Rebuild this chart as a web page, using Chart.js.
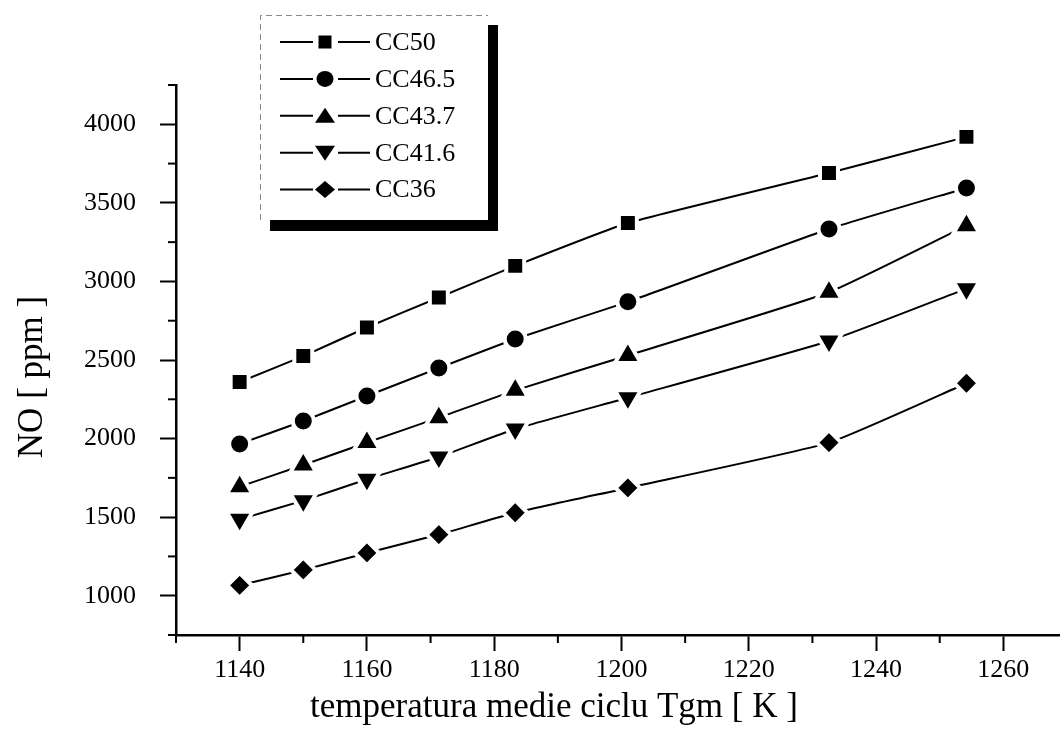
<!DOCTYPE html>
<html>
<head>
<meta charset="utf-8">
<script src="https://cdn.jsdelivr.net/npm/chart.js@4/dist/chart.umd.min.js"></script>
<style>
    html, body { margin: 0; padding: 0; background: #fff; overflow: hidden; }
    canvas { display: block; }
</style>
</head>
<body>
<canvas id="noChart" width="1086" height="744"></canvas>
<script>
// temperatura medie ciclu Tgm [K]
var temps = [1140, 1150, 1160, 1171.3, 1183.3, 1201, 1232.6, 1254.2];

// NO [ppm]
var cc50 = [2360, 2525, 2707, 2898, 3099, 3372, 3690, 3920];
var cc465 = [1966, 2112, 2271, 2449, 2634, 2870, 3334, 3595];
var cc437 = [1694, 1832, 1975, 2133, 2307, 2529, 2931, 3355];
var cc416 = [1486, 1605, 1741, 1883, 2061, 2260, 2621, 2954];
var cc36 = [1066, 1164, 1272, 1389, 1528, 1686, 1974, 2352];

var seriesNames = ["CC50", "CC46.5", "CC43.7", "CC41.6", "CC36"];
var xLabelTicks = [1140, 1160, 1180, 1200, 1220, 1240, 1260];
var yLabelTicks = [1000, 1500, 2000, 2500, 3000, 3500, 4000];

var serif = "'Liberation Serif', 'Times New Roman', serif";

function toPoints(values) {
    return values.map(function (v, i) {
        return {x: temps[i], y: v};
    });
}

function makeSet(label, values, style, radius, rotation) {
    return {
        label: label,
        data: toPoints(values),
        borderColor: "#000",
        backgroundColor: "#000",
        borderWidth: 2,
        tension: 0.15,
        fill: false,
        pointStyle: style,
        pointRotation: rotation || 0,
        pointRadius: radius,
        pointHoverRadius: radius,
        pointBackgroundColor: "#000",
        pointBorderColor: "#fff",
        pointBorderWidth: 4,
        pointHoverBorderWidth: 4
    };
}

// small black marker used by the legend box
function drawMarker(ctx, style, x, y) {
    ctx.beginPath();
    if (style === "rect") {
        ctx.rect(x - 6.5, y - 6.5, 13, 13);
    } else if (style === "circle") {
        ctx.ellipse(x, y, 8.5, 8, 0, 0, Math.PI * 2);
    } else if (style === "triangle") {
        ctx.moveTo(x, y - 8);
        ctx.lineTo(x + 10, y + 7);
        ctx.lineTo(x - 10, y + 7);
    } else if (style === "triangleDown") {
        ctx.moveTo(x, y + 8);
        ctx.lineTo(x + 10, y - 7);
        ctx.lineTo(x - 10, y - 7);
    } else {
        ctx.moveTo(x - 10, y);
        ctx.lineTo(x, y - 8.5);
        ctx.lineTo(x + 10, y);
        ctx.lineTo(x, y + 8.5);
    }
    ctx.closePath();
    ctx.fill();
}

var legendStyles = ["rect", "circle", "triangle", "triangleDown", "diamond"];

var decorPlugin = {
    id: "decor",
    afterDraw: function (chart) {
        var ctx = chart.ctx;
        var xs = chart.scales.x;
        var ys = chart.scales.y;
        ctx.save();

        // minor ticks
        ctx.strokeStyle = "#000";
        ctx.lineWidth = 2;
        ys.ticks.forEach(function (t) {
            if (yLabelTicks.indexOf(t.value) !== -1) return;
            var py = ys.getPixelForValue(t.value);
            ctx.beginPath();
            ctx.moveTo(xs.left, py);
            ctx.lineTo(xs.left - 8, py);
            ctx.stroke();
        });
        xs.ticks.forEach(function (t) {
            if (xLabelTicks.indexOf(t.value) !== -1) return;
            var px = xs.getPixelForValue(t.value);
            ctx.beginPath();
            ctx.moveTo(px, ys.bottom);
            ctx.lineTo(px, ys.bottom + 8);
            ctx.stroke();
        });

        // axis titles
        ctx.fillStyle = "#000";
        ctx.font = "35px " + serif;
        ctx.textAlign = "center";
        ctx.textBaseline = "alphabetic";
        ctx.fillText("temperatura medie ciclu Tgm [ K ]", 554, 717);
        ctx.save();
        ctx.translate(42, 377);
        ctx.rotate(-Math.PI / 2);
        ctx.fillText("NO [ ppm ]", 0, 0);
        ctx.restore();

        // legend box with drop shadow
        ctx.fillStyle = "#000";
        ctx.fillRect(270, 25, 228, 206);
        ctx.fillStyle = "#fff";
        ctx.fillRect(260, 15, 228, 205);
        ctx.strokeStyle = "#888";
        ctx.lineWidth = 1;
        ctx.setLineDash([6, 4]);
        ctx.beginPath();
        ctx.moveTo(260.5, 220);
        ctx.lineTo(260.5, 15.5);
        ctx.lineTo(488, 15.5);
        ctx.stroke();
        ctx.setLineDash([]);

        ctx.font = "26px " + serif;
        ctx.textAlign = "left";
        ctx.textBaseline = "middle";
        seriesNames.forEach(function (name, i) {
            var y = 42 + i * 36.9;
            ctx.strokeStyle = "#000";
            ctx.lineWidth = 2;
            ctx.beginPath();
            ctx.moveTo(280, y);
            ctx.lineTo(313, y);
            ctx.moveTo(338, y);
            ctx.lineTo(370, y);
            ctx.stroke();
            ctx.fillStyle = "#000";
            drawMarker(ctx, legendStyles[i], 325, y);
            ctx.fillText(name, 375, y + 1);
        });
        ctx.restore();
    }
};

var ctx = document.getElementById("noChart");

new Chart(ctx, {
    type: "line",
    data: {
        datasets: [
            makeSet(seriesNames[0], cc50, "rect", 12.7),
            makeSet(seriesNames[1], cc465, "circle", 10.5),
            makeSet(seriesNames[2], cc437, "triangle", 15),
            makeSet(seriesNames[3], cc416, "triangle", 15, 180),
            makeSet(seriesNames[4], cc36, "rectRot", 12.3)
        ]
    },
    options: {
        responsive: false,
        devicePixelRatio: 1,
        animation: false,
        events: [],
        layout: {padding: {top: 85, right: 0, bottom: 0, left: 0}},
        plugins: {
            legend: {display: false},
            tooltip: {enabled: false}
        },
        scales: {
            x: {
                type: "linear",
                min: 1130,
                max: 1270,
                afterFit: function (scale) {
                    scale.height = 109;
                    scale.paddingLeft = 0;
                    scale.paddingRight = 0;
                },
                border: {display: true, color: "#000", width: 2.5},
                grid: {
                    drawOnChartArea: false,
                    drawTicks: true,
                    tickLength: 16,
                    tickWidth: 2,
                    tickColor: function (c) {
                        return c.tick && xLabelTicks.indexOf(c.tick.value) !== -1 ? "#000" : "rgba(0,0,0,0)";
                    }
                },
                ticks: {
                    stepSize: 10,
                    autoSkip: false,
                    maxRotation: 0,
                    padding: 4,
                    color: "#000",
                    font: {family: serif, size: 26},
                    callback: function (v) {
                        return xLabelTicks.indexOf(v) !== -1 ? String(v) : "";
                    }
                }
            },
            y: {
                min: 750,
                max: 4250,
                afterFit: function (scale) {
                    scale.width = 176;
                    scale.paddingTop = 0;
                    scale.paddingBottom = 0;
                },
                border: {display: true, color: "#000", width: 2.5},
                grid: {
                    drawOnChartArea: false,
                    drawTicks: true,
                    tickLength: 16,
                    tickWidth: 2,
                    tickColor: function (c) {
                        return c.tick && yLabelTicks.indexOf(c.tick.value) !== -1 ? "#000" : "rgba(0,0,0,0)";
                    }
                },
                ticks: {
                    stepSize: 250,
                    autoSkip: false,
                    padding: 24,
                    color: "#000",
                    font: {family: serif, size: 26},
                    callback: function (v) {
                        return yLabelTicks.indexOf(v) !== -1 ? String(v) : "";
                    }
                }
            }
        }
    },
    plugins: [decorPlugin]
});
</script>
</body>
</html>
